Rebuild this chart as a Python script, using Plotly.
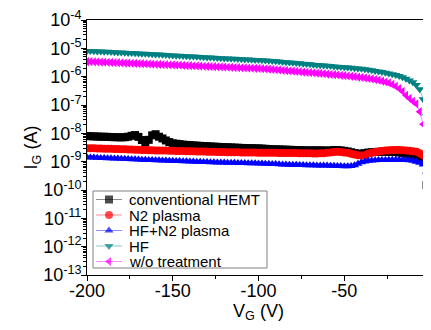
import plotly.graph_objects as go

V = [-200, -198, -196, -194, -192, -190, -188, -186, -184, -182,
     -180, -178, -176, -174, -172, -170, -168, -166, -164, -162,
     -160, -158, -156, -154, -152, -150, -148, -146, -144, -142,
     -140, -138, -136, -134, -132, -130, -128, -126, -124, -122,
     -120, -118, -116, -114, -112, -110, -108, -106, -104, -102,
     -100, -98, -96, -94, -92, -90, -88, -86, -84, -82,
     -80, -78, -76, -74, -72, -70, -68, -66, -64, -62,
     -60, -58, -56, -54, -52, -50, -48, -46, -44, -42,
     -40, -38, -36, -34, -32, -30, -28, -26, -24, -22,
     -20, -18, -16, -14, -12, -10, -8, -6, -4, -2,
     -1, -0.5, 0]

conventional = [e * 1e-9 for e in [
    8.0, 7.9, 7.8, 7.7, 7.6, 7.6, 7.5, 7.4, 7.3, 7.3,
    7.2, 7.3, 7.6, 8.2, 8.7, 7.5, 5.8, 4.7, 5.9, 8.5,
    9.3, 7.6, 6.6, 5.6, 4.9, 4.45, 4.3, 4.15, 4.0, 3.9,
    3.82, 3.75, 3.68, 3.62, 3.56, 3.5, 3.45, 3.4, 3.35, 3.3,
    3.26, 3.22, 3.18, 3.14, 3.1, 3.06, 3.03, 3.0, 2.98, 2.96,
    2.94, 2.9, 2.85, 2.8, 2.75, 2.72, 2.7, 2.68, 2.65, 2.62,
    2.6, 2.58, 2.55, 2.52, 2.5, 2.5, 2.5, 2.5, 2.5, 2.48,
    2.45, 2.5, 2.55, 2.55, 2.5, 2.4, 2.3, 2.15, 2.0, 1.92,
    1.9, 2.0, 2.1, 2.15, 2.2, 2.22, 2.25, 2.25, 2.25, 2.22,
    2.2, 2.1, 2.0, 1.9, 1.75, 1.6, 1.45, 1.3, 1.15, 0.15,
    0.11, 0.09, 0.07]]

n2_plasma = [e * 1e-9 for e in [
    3.0, 2.98, 2.95, 2.93, 2.9, 2.88, 2.85, 2.83, 2.8, 2.78,
    2.75, 2.73, 2.7, 2.68, 2.65, 2.63, 2.6, 2.58, 2.55, 2.53,
    2.5, 2.49, 2.47, 2.46, 2.44, 2.42, 2.4, 2.38, 2.36, 2.35,
    2.33, 2.32, 2.3, 2.29, 2.27, 2.26, 2.24, 2.23, 2.21, 2.2,
    2.18, 2.17, 2.15, 2.14, 2.13, 2.12, 2.11, 2.1, 2.1, 2.09,
    2.08, 2.07, 2.06, 2.06, 2.05, 2.05, 2.04, 2.04, 2.03, 2.03,
    2.02, 2.01, 2.0, 1.99, 1.98, 1.97, 1.96, 1.96, 1.97, 2.0,
    2.05, 2.12, 2.2, 2.22, 2.2, 2.12, 2.05, 1.92, 1.8, 1.7,
    1.65, 1.7, 1.9, 2.05, 2.2, 2.3, 2.4, 2.48, 2.55, 2.58,
    2.6, 2.6, 2.55, 2.5, 2.45, 2.35, 2.25, 2.0, 1.7, 1.3,
    0.6, 0.1, 0.022]]

hf_n2_plasma = [e * 1e-9 for e in [
    1.42, 1.405, 1.39, 1.375, 1.36, 1.345, 1.33, 1.315, 1.3, 1.285,
    1.27, 1.255, 1.24, 1.225, 1.21, 1.195, 1.18, 1.165, 1.15, 1.14,
    1.13, 1.115, 1.1, 1.09, 1.08, 1.07, 1.06, 1.05, 1.04, 1.03,
    1.02, 1.01, 1.0, 0.99, 0.98, 0.97, 0.96, 0.95, 0.94, 0.935,
    0.93, 0.925, 0.92, 0.91, 0.90, 0.895, 0.89, 0.885, 0.88, 0.875,
    0.87, 0.86, 0.85, 0.84, 0.83, 0.82, 0.81, 0.80, 0.79, 0.785,
    0.78, 0.775, 0.77, 0.76, 0.75, 0.745, 0.74, 0.735, 0.73, 0.728,
    0.725, 0.722, 0.72, 0.71, 0.70, 0.695, 0.69, 0.70, 0.75, 0.85,
    0.95, 1.02, 1.08, 1.1, 1.12, 1.14, 1.15, 1.155, 1.16, 1.16,
    1.16, 1.16, 1.15, 1.14, 1.12, 1.08, 1.0, 0.92, 0.8, 0.45,
    0.1, 0.03, 0.0115]]

hf = [e * 1e-6 for e in [
    8.1, 8.0, 7.9, 7.8, 7.7, 7.6, 7.5, 7.4, 7.3, 7.2,
    7.1, 7.0, 6.9, 6.8, 6.7, 6.6, 6.5, 6.4, 6.3, 6.2,
    6.1, 6.0, 5.9, 5.8, 5.7, 5.6, 5.5, 5.42, 5.35, 5.27,
    5.2, 5.1, 5.0, 4.92, 4.85, 4.77, 4.7, 4.62, 4.55, 4.47,
    4.4, 4.35, 4.3, 4.25, 4.2, 4.12, 4.05, 4.0, 3.95, 3.9,
    3.85, 3.77, 3.7, 3.62, 3.55, 3.47, 3.4, 3.32, 3.25, 3.17,
    3.1, 3.02, 2.95, 2.87, 2.8, 2.72, 2.65, 2.6, 2.55, 2.5,
    2.45, 2.38, 2.3, 2.25, 2.2, 2.15, 2.1, 2.05, 2.0, 1.95,
    1.9, 1.82, 1.75, 1.68, 1.6, 1.52, 1.45, 1.38, 1.3, 1.22,
    1.15, 1.05, 0.95, 0.85, 0.73, 0.63, 0.51, 0.36, 0.16, 0.04,
    0.012, 0.0004, 0.0000026]]

wo_treatment = [e * 1e-6 for e in [
    3.4, 3.37, 3.33, 3.3, 3.27, 3.23, 3.2, 3.17, 3.13, 3.1,
    3.06, 3.03, 3.0, 2.96, 2.93, 2.9, 2.86, 2.83, 2.8, 2.77,
    2.74, 2.71, 2.68, 2.65, 2.62, 2.59, 2.56, 2.53, 2.5, 2.47,
    2.45, 2.42, 2.39, 2.36, 2.33, 2.3, 2.28, 2.25, 2.23, 2.2,
    2.18, 2.15, 2.13, 2.1, 2.08, 2.05, 2.03, 2.01, 2.0, 1.98,
    1.96, 1.92, 1.88, 1.84, 1.8, 1.76, 1.72, 1.68, 1.64, 1.6,
    1.57, 1.53, 1.5, 1.46, 1.43, 1.4, 1.37, 1.33, 1.3, 1.27,
    1.24, 1.21, 1.18, 1.15, 1.12, 1.09, 1.06, 1.03, 1.0, 0.97,
    0.94, 0.9, 0.87, 0.83, 0.79, 0.75, 0.7, 0.65, 0.6, 0.53,
    0.46, 0.38, 0.30, 0.22, 0.17, 0.135, 0.11, 0.058, 0.021, 0.004,
    0.0015, 0.0002, 0.000008]]

series_names = ["conventional HEMT", "N2 plasma", "HF+N2 plasma", "HF", "w/o treatment"]
x_tick_vals = [-200, -150, -100, -50, 0]
x_tick_text = ["-200", "-150", "-100", "-50", "0"]
y_tick_vals = [1e-13, 1e-12, 1e-11, 1e-10, 1e-9, 1e-8, 1e-7, 1e-6, 1e-5, 1e-4]
y_tick_text = ["10<sup>-13</sup>", "10<sup>-12</sup>", "10<sup>-11</sup>", "10<sup>-10</sup>",
               "10<sup>-9</sup>", "10<sup>-8</sup>", "10<sup>-7</sup>", "10<sup>-6</sup>",
               "10<sup>-5</sup>", "10<sup>-4</sup>"]

styles = [
    ("#000000", "rgba(0,0,0,0.45)", "square"),
    ("#ff0000", "rgba(255,0,0,0.45)", "circle"),
    ("#0000ff", "rgba(0,0,255,0.45)", "triangle-up"),
    ("#008080", "rgba(0,128,128,0.45)", "triangle-down"),
    ("#ff00ff", "rgba(255,0,255,0.45)", "triangle-left"),
]
data = [conventional, n2_plasma, hf_n2_plasma, hf, wo_treatment]

FONT = "Liberation Sans, Arial, sans-serif"
# page body has an 8px default margin; figure sized so the window shows it like the reference
W, H = 423, 322
L, R, T, B = 79, 1, 12, 55

fig = go.Figure()
for name, ys, (mc, lc, sym) in zip(series_names, data, styles):
    fig.add_trace(go.Scatter(
        x=V, y=ys, name=name, mode="lines+markers",
        line=dict(color=lc, width=1),
        marker=dict(color=mc, symbol=sym, size=8, line=dict(width=0)),
        showlegend=False,
    ))

# hand-built legend on a pixel-unit overlay axis
LEG_X0, LEG_X1, LEG_Y0, LEG_Y1 = 85, 259, 183, 260
leg_rows = [191.5, 207, 222.5, 238, 253.5]
for name, row, (mc, lc, sym) in zip(series_names, leg_rows, styles):
    fig.add_trace(go.Scatter(
        x=[88, 101, 114], y=[row, row, row], mode="lines+markers",
        xaxis="x2", yaxis="y2", showlegend=False, hoverinfo="skip",
        line=dict(color=lc, width=1),
        marker=dict(color=mc, symbol=sym, size=[0, 8, 0], line=dict(width=0)),
    ))
    fig.add_annotation(x=119, y=row, xref="x2", yref="y2", text=name, showarrow=False,
                       xanchor="left", yanchor="middle",
                       font=dict(size=15, family=FONT, color="black"))
fig.add_shape(type="rect", xref="x2", yref="y2", x0=LEG_X0, x1=LEG_X1, y0=LEG_Y0, y1=LEG_Y1,
              line=dict(color="#808080", width=1), fillcolor="rgba(0,0,0,0)", layer="below")

xaxis = dict(
    range=[-200, 0], tickmode="array", tickvals=x_tick_vals, ticktext=x_tick_text,
    showgrid=False, zeroline=False, showline=True, linecolor="black", linewidth=1,
    mirror=True, ticks="outside", ticklen=5, tickcolor="black", automargin=False,
    ticklabeloverflow="allow", ticklabelstandoff=-6,
    minor=dict(ticks="outside", ticklen=3, dtick=25, tick0=-200, tickcolor="black", showgrid=False),
    title=dict(text="V<sub>G</sub> (V)", font=dict(size=18, family=FONT), standoff=0),
    tickfont=dict(size=18, family=FONT),
)
yaxis = dict(
    type="log", range=[-13, -4], tickmode="array", tickvals=y_tick_vals, ticktext=y_tick_text,
    showgrid=False, zeroline=False, showline=True, linecolor="black", linewidth=1,
    mirror=True, ticks="outside", ticklen=5, tickcolor="black", automargin=False,
    ticklabeloverflow="allow", ticklabelstandoff=-4,
    minor=dict(ticks="outside", ticklen=3, dtick="D1", tickcolor="black", showgrid=False),
    title=dict(text="I<sub>G</sub> (A)", font=dict(size=18, family=FONT), standoff=0),
    tickfont=dict(size=18, family=FONT),
)

fig.update_layout(
    width=W, height=H,
    margin=dict(l=L, r=R, t=T, b=B, autoexpand=False),
    paper_bgcolor="white", plot_bgcolor="white",
    font=dict(family=FONT, size=18, color="black"),
    showlegend=False,
    xaxis=xaxis, yaxis=yaxis,
    xaxis2=dict(overlaying="x", anchor="y2", range=[L, W - R], visible=False, fixedrange=True),
    yaxis2=dict(overlaying="y", anchor="x2", range=[H - B, T], visible=False, fixedrange=True),
)

fig.write_html("out.html")
